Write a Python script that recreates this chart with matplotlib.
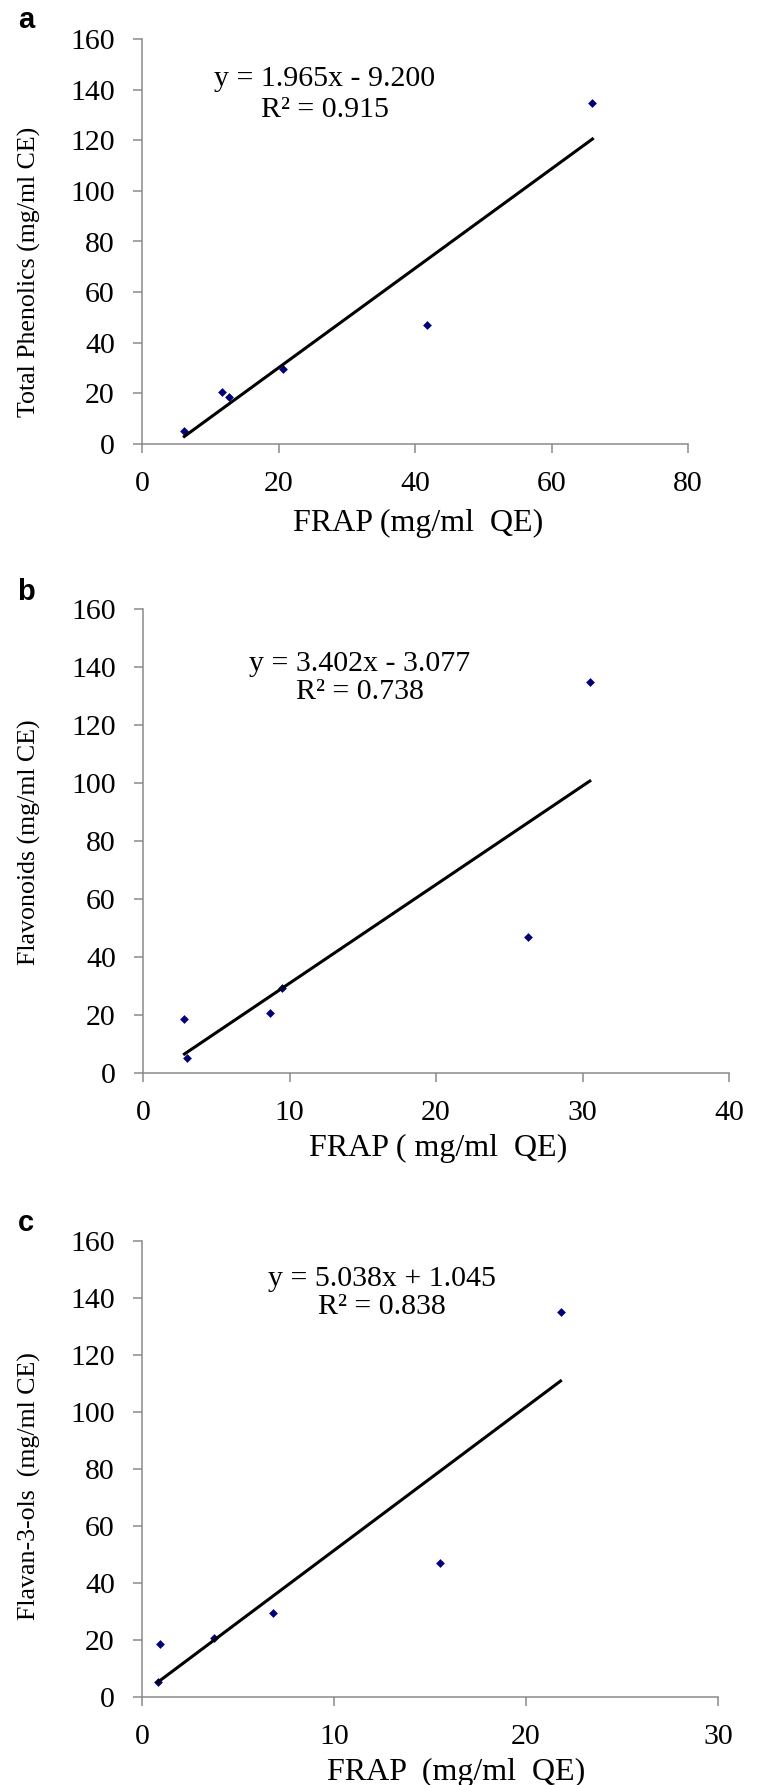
import matplotlib
matplotlib.use("Agg")
import matplotlib.pyplot as plt
import numpy as np

# ---- data ----
a_x = [6.2, 11.7, 12.7, 20.7, 41.7, 66.0]
a_y = [5.0, 20.6, 18.4, 29.5, 47.0, 134.7]
a_slope, a_icpt = 1.965, -9.200
a_eq = "y = 1.965x - 9.200"
a_r2 = "R² = 0.915"

b_x = [2.83, 2.97, 8.67, 9.5, 26.3, 30.5]
b_y = [18.6, 5.2, 20.6, 29.3, 47.0, 134.7]
b_slope, b_icpt = 3.402, -3.077
b_eq = "y = 3.402x - 3.077"
b_r2 = "R² = 0.738"

c_x = [0.81, 0.93, 3.73, 6.83, 15.5, 21.8]
c_y = [5.1, 18.6, 20.6, 29.5, 47.1, 135.0]
c_slope, c_icpt = 5.038, 1.045
c_eq = "y = 5.038x + 1.045"
c_r2 = "R² = 0.838"

y_ticks = [0, 20, 40, 60, 80, 100, 120, 140, 160]
a_xticks = [0, 20, 40, 60, 80]
b_xticks = [0, 10, 20, 30, 40]
c_xticks = [0, 10, 20, 30]

# ---- layout (pixels) ----
W, H = 759, 1785
fig = plt.figure(figsize=(W / 100, H / 100), dpi=100)
SERIF = ["Liberation Serif", "DejaVu Serif"]
SANS = ["Liberation Sans", "DejaVu Sans"]
GREY = "#8a8a8a"

panels = [
    dict(box=(142, 39, 688, 444), x=a_x, y=a_y, m=a_slope, c=a_icpt, eq=a_eq, r2=a_r2,
         xticks=a_xticks, eqpos=(26.8, 144.0, 132.0), letter="a", lpos=(26, 20),
         ylabel="Total Phenolics (mg/ml CE)", ylpos=(29, 272),
         xlabel="FRAP (mg/ml  QE)", xlpos=(418, 523)),
    dict(box=(143, 609, 729, 1073), x=b_x, y=b_y, m=b_slope, c=b_icpt, eq=b_eq, r2=b_r2,
         xticks=b_xticks, eqpos=(14.8, 141.0, 131.5), letter="b", lpos=(26, 592),
         ylabel="Flavonoids (mg/ml CE)", ylpos=(29, 842),
         xlabel="FRAP ( mg/ml  QE)", xlpos=(438, 1148)),
    dict(box=(142, 1241, 718, 1697), x=c_x, y=c_y, m=c_slope, c=c_icpt, eq=c_eq, r2=c_r2,
         xticks=c_xticks, eqpos=(12.5, 146.5, 137.0), letter="c", lpos=(26, 1223),
         ylabel="Flavan-3-ols  (mg/ml CE)", ylpos=(29, 1486),
         xlabel="FRAP  (mg/ml  QE)", xlpos=(456, 1772)),
]

for p in panels:
    l, t, r, b = p["box"]
    ax = fig.add_axes([l / W, 1 - b / H, (r - l) / W, (b - t) / H])
    xs = np.array(p["x"])
    ax.scatter(xs, p["y"], marker="D", s=20, color="#00007a", zorder=3, linewidths=0)
    xl = np.array([xs.min(), xs.max()])
    ax.plot(xl, p["m"] * xl + p["c"], color="black", lw=2.2, zorder=4)
    ax.set_xlim(p["xticks"][0], p["xticks"][-1])
    ax.set_ylim(0, 160)
    ax.set_xticks(p["xticks"])
    ax.set_yticks(y_ticks)
    for s in ("top", "right"):
        ax.spines[s].set_visible(False)
    for s in ("left", "bottom"):
        ax.spines[s].set_color(GREY)
        ax.spines[s].set_linewidth(1.1)
    ax.tick_params(axis="both", direction="out", color=GREY, width=1.1, length=6.5,
                   labelsize=21.5)
    ax.tick_params(axis="y", pad=13)
    ax.tick_params(axis="x", pad=13)
    for lab in ax.get_xticklabels() + ax.get_yticklabels():
        lab.set_fontfamily(SERIF)
    ex, ey1, ey2 = p["eqpos"]
    ax.text(ex, ey1, p["eq"], ha="center", va="center", fontsize=21.5, family=SERIF)
    ax.text(ex, ey2, p["r2"], ha="center", va="center", fontsize=21.5, family=SERIF)
    fig.text(p["lpos"][0] / W, 1 - p["lpos"][1] / H, p["letter"], ha="center", va="center",
             fontsize=21, fontweight="bold", family=SANS)
    fig.text(p["ylpos"][0] / W, 1 - p["ylpos"][1] / H, p["ylabel"], ha="center", va="center",
             rotation=90, fontsize=18.6, family=SERIF)
    fig.text(p["xlpos"][0] / W, 1 - p["xlpos"][1] / H, p["xlabel"], ha="center", va="center",
             fontsize=23, family=SERIF)

fig.savefig("out.png", dpi=100)
